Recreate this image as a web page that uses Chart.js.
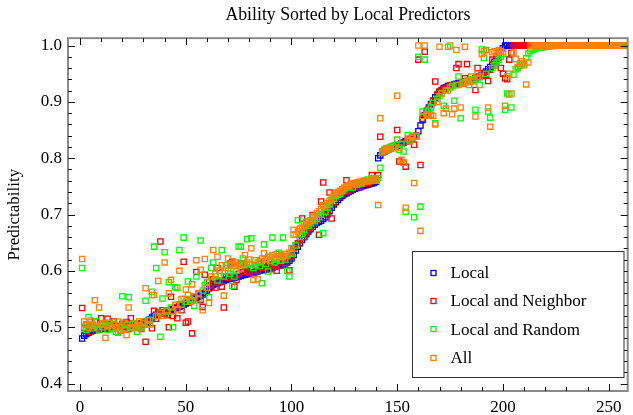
<!DOCTYPE html>
<html><head><meta charset="utf-8">
<script src="https://cdn.jsdelivr.net/npm/chart.js@4.4.0/dist/chart.umd.min.js"></script>
<style>html,body{margin:0;padding:0;background:#fff}canvas{display:block}</style>
</head><body>
<canvas id="c" width="633" height="415"></canvas>
<script>
const chartTitle = 'Ability Sorted by Local Predictors';
const yTitle = 'Predictability';
const seriesNames = ['Local', 'Local and Neighbor', 'Local and Random', 'All'];
const seriesColors = ['#0000ff', '#ff0000', '#00ff00', '#ff8000'];
const xTickValues = [0, 50, 100, 150, 200, 250];
const yTickValues = [0.4, 0.5, 0.6, 0.7, 0.8, 0.9, 1.0];

const local = [
.480,.485,.488,.490,.492,.494,.495,.496,.497,.497,
.498,.498,.499,.499,.500,.500,.500,.501,.501,.502,
.502,.502,.503,.503,.504,.504,.505,.506,.507,.508,
.509,.511,.514,.517,.520,.522,.523,.524,.525,.526,
.528,.530,.531,.532,.533,.534,.536,.538,.540,.542,
.544,.546,.548,.550,.552,.554,.556,.558,.561,.565,
.569,.572,.575,.577,.578,.580,.581,.582,.584,.585,
.586,.587,.588,.589,.590,.591,.592,.593,.594,.595,
.596,.597,.598,.599,.600,.601,.602,.603,.604,.605,
.606,.607,.608,.609,.610,.611,.613,.615,.618,.622,
.628,.636,.643,.649,.655,.660,.665,.670,.674,.678,
.682,.685,.687,.689,.692,.695,.700,.706,.712,.718,
.722,.726,.730,.733,.736,.738,.740,.742,.744,.746,
.747,.748,.750,.751,.752,.753,.754,.755,.756,.758,
.800,.805,.810,.812,.814,.816,.818,.819,.820,.822,
.824,.826,.828,.830,.832,.834,.836,.838,.840,.848,
.858,.868,.876,.884,.890,.896,.902,.908,.913,.918,
.921,.924,.926,.928,.929,.930,.931,.932,.933,.934,
.935,.936,.937,.938,.939,.940,.942,.944,.946,.948,
.951,.954,.958,.962,.966,.971,.977,.983,.989,.995,
1,1,1,1,1,1,1,1,1,1,
1,1,1,1,1,1,1,1,1,1,
1,1,1,1,1,1,1,1,1,1,
1,1,1,1,1,1,1,1,1,1,
1,1,1,1,1,1,1,1,1,1,
1,1,1,1,1,1,1
];

const neighbor = [
.534,.498,.505,.500,.492,.503,.510,.500,.495,.516,
.505,.500,.515,.497,.503,.510,.498,.502,.494,.506,
.500,.509,.497,.516,.503,.499,.507,.501,.497,.505,
.474,.508,.512,.498,.529,.515,.526,.652,.530,.524,
.521,.500,.554,.520,.536,.516,.540,.530,.616,.508,
.510,.545,.489,.552,.598,.560,.548,.536,.593,.570,
.580,.575,.585,.570,.605,.582,.572,.535,.590,.588,
.613,.616,.572,.584,.595,.613,.598,.607,.600,.597,
.604,.596,.610,.600,.612,.605,.615,.607,.610,.603,
.612,.608,.600,.615,.610,.618,.614,.622,.601,.625,
.640,.645,.649,.655,.693,.660,.668,.675,.678,.699,
.685,.690,.664,.723,.757,.700,.705,.739,.693,.722,
.728,.731,.735,.738,.740,.761,.742,.745,.748,.750,
.752,.749,.754,.755,.757,.755,.758,.770,.760,.762,
.770,.838,.812,.815,.817,.818,.820,.821,.822,.850,
.794,.826,.792,.785,.830,.833,.835,.824,.840,.975,
.788,.870,.989,.880,.888,.895,.902,.936,.912,.918,
.920,.922,.924,.926,.928,.929,.930,.960,.967,.932,
.934,.942,.967,.936,.938,.940,.921,.960,.944,.946,
.950,.948,.937,.957,.975,.965,.970,.978,.960,.950,
.942,.940,.975,.987,1,1,1,1,1,1,
1,1,1,1,1,1,1,1,1,1,
1,1,1,1,1,1,1,1,1,1,
1,1,1,1,1,1,1,1,1,1,
1,1,1,1,1,1,1,1,1,1,
1,1,1,1,1,1,1
];

const random = [
.605,.500,.495,.518,.505,.498,.502,.510,.496,.505,
.500,.508,.495,.503,.499,.506,.492,.490,.500,.555,
.497,.504,.553,.498,.500,.507,.492,.503,.498,.510,
.547,.505,.513,.563,.643,.605,.520,.483,.551,.633,
.528,.580,.535,.500,.571,.570,.637,.540,.659,.545,
.581,.550,.548,.538,.590,.550,.654,.565,.575,.580,
.553,.605,.615,.590,.583,.600,.637,.590,.610,.600,
.595,.573,.590,.600,.643,.643,.622,.610,.656,.612,
.658,.605,.610,.615,.608,.578,.647,.612,.599,.618,
.659,.615,.620,.632,.618,.659,.620,.600,.590,.630,
.664,.645,.690,.660,.665,.672,.687,.680,.684,.690,
.688,.692,.695,.700,.667,.705,.712,.718,.725,.728,
.733,.735,.737,.742,.745,.748,.750,.752,.748,.755,
.753,.757,.755,.760,.758,.762,.760,.765,.762,.760,
.765,.783,.812,.815,.818,.816,.820,.822,.818,.833,
.815,.825,.812,.705,.841,.832,.836,.695,.838,.980,
.714,.883,.975,.878,.885,.890,.898,.862,.905,.910,
.915,.893,.920,.998,.925,.928,.902,.930,.945,.871,
.933,.935,.937,.930,.938,.940,.886,.942,.930,.993,
.978,.950,.883,.872,.960,.965,.970,.975,.980,.985,
.886,.915,.913,.890,.948,.958,.960,.964,.967,.969,
.978,.986,.990,.992,.994,.995,.996,.997,.997,.998,
.998,.999,.999,.999,1,1,1,1,1,1,
1,1,1,1,1,1,1,1,1,1,
1,1,1,1,1,1,1,1,1,1,
1,1,1,1,1,1,1
];

const all = [
.621,.510,.505,.498,.512,.503,.548,.500,.535,.505,
.507,.481,.502,.508,.497,.505,.500,.510,.495,.503,
.508,.486,.535,.500,.506,.498,.504,.510,.500,.507,
.569,.512,.505,.557,.557,.520,.582,.525,.520,.615,
.530,.560,.584,.528,.540,.532,.600,.550,.550,.567,
.557,.545,.576,.555,.619,.560,.602,.530,.621,.570,
.543,.590,.637,.595,.625,.600,.610,.556,.605,.622,
.610,.612,.608,.615,.610,.603,.612,.628,.615,.620,
.640,.584,.619,.585,.618,.622,.631,.620,.625,.625,
.628,.622,.630,.626,.628,.624,.630,.627,.632,.640,
.673,.665,.670,.675,.677,.680,.683,.687,.690,.695,
.698,.702,.706,.710,.717,.716,.720,.725,.730,.735,
.738,.740,.742,.745,.748,.750,.752,.754,.755,.756,
.757,.758,.756,.759,.760,.758,.761,.762,.760,.762,
.717,.871,.810,.813,.815,.816,.817,.818,.818,.911,
.819,.797,.792,.712,.835,.830,.838,.756,.840,1,
.671,.875,1,.876,.878,.877,.875,.860,.900,.998,
.915,.880,.888,.920,1,.878,.888,.992,.930,.890,
.932,.998,.935,.938,.945,.936,.874,.950,.945,.985,
.990,.992,.890,.856,.988,.990,.987,.992,.990,.988,
.893,.945,.950,.915,.987,.976,.962,.968,.972,.965,
.931,.970,1,1,1,1,1,1,1,1,
1,1,1,1,1,1,1,1,1,1,
1,1,1,1,1,1,1,1,1,1,
1,1,1,1,1,1,1,1,1,1,
1,1,1,1,1,1,1
];

const seriesValues = [local, neighbor, random, all];
const rank = local.map((_, i) => i + 1);
const toPoints = arr => arr.map((v, i) => ({ x: rank[i], y: v }));

const FONT = 'Liberation Serif, Times New Roman, serif';

const framePlugin = {
  id: 'frameTicks',
  afterDatasetsDraw(chart) {
    const { ctx, chartArea: a, scales: { x, y } } = chart;
    ctx.save();
    ctx.strokeStyle = '#8a8a8a';
    ctx.lineWidth = 2;
    ctx.strokeRect(a.left, a.top, a.right - a.left, a.bottom - a.top);
    ctx.strokeStyle = '#111';
    ctx.lineWidth = 1;
    ctx.beginPath();
    for (let k = 0; k <= 25; k++) {
      const v = k * 10;
      const px = Math.round(x.getPixelForValue(v)) + 0.5;
      const len = (v % 50 === 0) ? 7 : 4;
      ctx.moveTo(px, a.bottom); ctx.lineTo(px, a.bottom - len);
      ctx.moveTo(px, a.top); ctx.lineTo(px, a.top + len);
    }
    for (let k = 0; k <= 30; k++) {
      const v = 0.4 + k * 0.02;
      const py = Math.round(y.getPixelForValue(v)) + 0.5;
      const len = (k % 5 === 0) ? 7 : 4;
      ctx.moveTo(a.left, py); ctx.lineTo(a.left + len, py);
      ctx.moveTo(a.right, py); ctx.lineTo(a.right - len, py);
    }
    ctx.stroke();
    ctx.restore();
  },
  afterDraw(chart) {
    const { ctx } = chart;
    ctx.save();
    const bx = 412.5, by = 251.5, bw = 211.5, bh = 126;
    ctx.fillStyle = '#fff';
    ctx.fillRect(bx, by, bw, bh);
    ctx.strokeStyle = '#333';
    ctx.lineWidth = 1;
    ctx.strokeRect(bx, by, bw, bh);
    ctx.font = '17px ' + FONT;
    ctx.textBaseline = 'middle';
    ctx.fillStyle = '#000';
    seriesNames.forEach((name, i) => {
      const cy = 272.5 + i * 28.4;
      ctx.strokeStyle = seriesColors[i];
      ctx.lineWidth = 1.3;
      ctx.strokeRect(431, Math.round(cy) - 2.5, 5, 5);
      ctx.fillText(name, 450.5, cy + 1);
    });
    ctx.restore();
  }
};

const orders = [4, 3, 2, 1];
const datasets = seriesValues.map((vals, i) => ({
  label: seriesNames[i],
  data: toPoints(vals),
  pointStyle: 'rect',
  pointRadius: 3.7,
  pointBorderWidth: 1.3,
  pointBorderColor: seriesColors[i],
  pointBackgroundColor: 'rgba(0,0,0,0)',
  borderColor: seriesColors[i],
  backgroundColor: 'rgba(0,0,0,0)',
  showLine: false,
  order: orders[i]
}));

new Chart(document.getElementById('c'), {
  type: 'scatter',
  data: { datasets },
  plugins: [framePlugin],
  options: {
    responsive: false,
    animation: false,
    devicePixelRatio: 1,
    layout: { padding: 0 },
    plugins: {
      legend: { display: false },
      tooltip: { enabled: false },
      title: {
        display: true,
        fullSize: false,
        text: chartTitle,
        color: '#000',
        font: { family: FONT, size: 17.8, weight: 'normal' },
        padding: { top: 5, bottom: 11.8 }
      }
    },
    scales: {
      x: {
        type: 'linear',
        min: -5.7,
        max: 259,
        grid: { display: false, drawTicks: false },
        border: { display: false },
        afterBuildTicks: s => { s.ticks = xTickValues.map(v => ({ value: v })); },
        afterFit: s => { s.height = 24; s.paddingLeft = 0; s.paddingRight = 0; },
        ticks: {
          color: '#000',
          padding: 6,
          maxRotation: 0,
          font: { family: FONT, size: 17 },
          callback: v => String(v)
        }
      },
      y: {
        type: 'linear',
        min: 0.3867,
        max: 1.0131,
        grid: { display: false, drawTicks: false },
        border: { display: false },
        afterBuildTicks: s => { s.ticks = yTickValues.map(v => ({ value: v })); },
        afterFit: s => { s.width = 68; s.paddingTop = 0; s.paddingBottom = 0; },
        title: {
          display: true,
          text: yTitle,
          color: '#000',
          font: { family: FONT, size: 17, weight: 'normal' },
          padding: { top: 4, bottom: 0 }
        },
        ticks: {
          color: '#000',
          padding: 6,
          font: { family: FONT, size: 17 },
          callback: v => Number(v).toFixed(1)
        }
      }
    }
  }
});
</script>
</body></html>
